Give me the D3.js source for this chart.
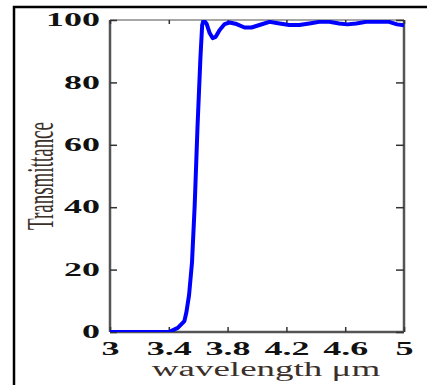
<!DOCTYPE html>
<html>
<head>
<meta charset="utf-8">
<script src="https://cdn.jsdelivr.net/npm/d3@7"></script>
<style>
  body { margin: 0; background: #fff; }
  svg { display: block; }
</style>
</head>
<body>
<figure id="line" style="margin:0"></figure>
<script>
// wavelength (um) and transmittance (%)
const wavelength = [3.0, 3.2, 3.40, 3.461, 3.506, 3.52, 3.538, 3.558, 3.576, 3.595, 3.615, 3.627,
  3.637, 3.658, 3.678, 3.698, 3.719, 3.746, 3.78, 3.814, 3.861, 3.915, 3.963, 4.017, 4.085,
  4.153, 4.22, 4.288, 4.356, 4.424, 4.492, 4.559, 4.614, 4.675, 4.742, 4.831, 4.898, 4.953, 5.0];
const transmittance = [0, 0, 0, 1.3, 3.5, 6.4, 11.9, 22.4, 40.4, 65.4, 87.8, 98.4,
  100, 98.7, 95.8, 94.2, 94.6, 96.8, 98.7, 99.2, 98.7, 97.6, 97.6, 98.4, 99.4,
  98.9, 98.4, 98.4, 98.9, 99.4, 99.4, 98.9, 98.6, 98.9, 99.4, 99.5, 99.4, 98.6, 98.3];
const xTicks = [3, 3.4, 3.8, 4.2, 4.6, 5];
const yTicks = [0, 20, 40, 60, 80, 100];

const data = wavelength.map((w, i) => ({ w: w, t: transmittance[i] }));

const W = 427, H = 385;
const pLeft = 110, pRight = 404, pTop = 20, pBottom = 332;

const svg = d3.select('figure#line')
  .append('svg')
  .attr('width', W)
  .attr('height', H);

// outer frame (only top and left edges show)
svg.append('path')
  .attr('d', `M14,${H} L14,7 L${W},7`)
  .attr('fill', 'none')
  .attr('stroke', '#000')
  .attr('stroke-width', 2.5);

const x = d3.scaleLinear().domain([3, 5]).range([pLeft, pRight]);
const y = d3.scaleLinear().domain([0, 100]).range([pBottom, pTop]);

const serif = '"Liberation Serif", "Times New Roman", serif';

// plot frame
svg.append('line').attr('x1', pLeft).attr('x2', pRight).attr('y1', pTop).attr('y2', pTop)
  .attr('stroke', '#888').attr('stroke-width', 1.5);
svg.append('line').attr('x1', pLeft).attr('x2', pLeft).attr('y1', pTop).attr('y2', pBottom)
  .attr('stroke', '#555').attr('stroke-width', 2.5);
svg.append('line').attr('x1', pRight).attr('x2', pRight).attr('y1', pTop).attr('y2', pBottom)
  .attr('stroke', '#555').attr('stroke-width', 2.5);
svg.append('line').attr('x1', pLeft).attr('x2', pRight).attr('y1', pBottom).attr('y2', pBottom)
  .attr('stroke', '#555').attr('stroke-width', 2.5);

// bottom axis
const gx = svg.append('g')
  .attr('transform', 'translate(0,' + pBottom + ')')
  .call(d3.axisBottom(x).tickValues(xTicks).tickSizeInner(-5).tickSizeOuter(0).tickPadding(10)
    .tickFormat(d3.format('')));
gx.select('.domain').remove();
gx.selectAll('line').attr('stroke', '#333').attr('stroke-width', 1.5);
gx.selectAll('text')
  .attr('transform', 'scale(2,1)')
  .style('font-family', serif)
  .style('font-size', '18px')
  .style('font-weight', 'bold')
  .style('fill', '#111');

// top ticks
const gt = svg.append('g')
  .attr('transform', 'translate(0,' + pTop + ')')
  .call(d3.axisTop(x).tickValues(xTicks).tickSizeInner(-4).tickSizeOuter(0).tickFormat(''));
gt.select('.domain').remove();
gt.selectAll('line').attr('stroke', '#333').attr('stroke-width', 1.5);

// left axis
const gy = svg.append('g')
  .attr('transform', 'translate(' + pLeft + ',0)')
  .call(d3.axisLeft(y).tickValues(yTicks).tickSizeInner(-7).tickSizeOuter(0));
gy.select('.domain').remove();
gy.selectAll('line').attr('stroke', '#333').attr('stroke-width', 1.5);
gy.selectAll('text')
  .attr('x', -5)
  .attr('transform', 'scale(2,1)')
  .style('font-family', serif)
  .style('font-size', '18px')
  .style('font-weight', 'bold')
  .style('fill', '#111');

// right ticks
const gr = svg.append('g')
  .attr('transform', 'translate(' + pRight + ',0)')
  .call(d3.axisRight(y).tickValues(yTicks).tickSizeInner(-8).tickSizeOuter(0).tickFormat(''));
gr.select('.domain').remove();
gr.selectAll('line').attr('stroke', '#333').attr('stroke-width', 1.5);

// curve
svg.append('clipPath').attr('id', 'clip')
  .append('rect').attr('x', pLeft).attr('y', pTop).attr('width', pRight - pLeft).attr('height', pBottom - pTop);

svg.append('path')
  .datum(data)
  .attr('clip-path', 'url(#clip)')
  .attr('fill', 'none')
  .attr('stroke', '#0000ff')
  .attr('stroke-width', 4)
  .attr('stroke-linejoin', 'round')
  .attr('d', d3.line()
    .x(d => x(d.w))
    .y(d => y(d.t)));

// axis titles
svg.append('text')
  .attr('transform', 'translate(266,376) scale(1.85,1)')
  .attr('text-anchor', 'middle')
  .style('font-family', serif)
  .style('font-size', '20px')
  .style('fill', '#3b2f2a')
  .text('wavelength μm');

svg.append('text')
  .attr('transform', 'translate(53,176) scale(2,1) rotate(-90)')
  .attr('text-anchor', 'middle')
  .style('font-family', serif)
  .style('font-size', '19px')
  .style('fill', '#3b2f2a')
  .text('Transmittance');
</script>
</body>
</html>
